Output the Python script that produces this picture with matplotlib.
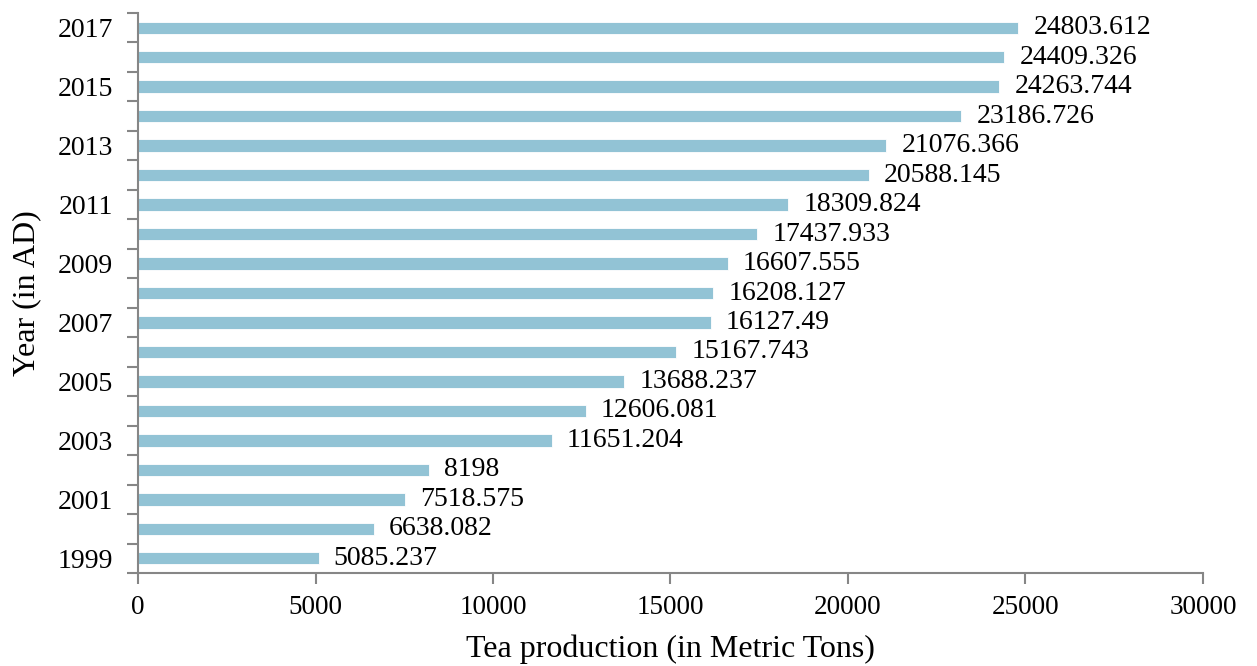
import numpy as np
import matplotlib
matplotlib.use("Agg")
import matplotlib.pyplot as plt
from matplotlib.ticker import FixedLocator

# ---- data ----
years = list(range(1999, 2018))
production = [5085.237, 6638.082, 7518.575, 8198, 11651.204, 12606.081,
              13688.237, 15167.743, 16127.49, 16208.127, 16607.555, 17437.933,
              18309.824, 20588.145, 21076.366, 23186.726, 24263.744, 24409.326,
              24803.612]
value_labels = ["5085.237", "6638.082", "7518.575", "8198", "11651.204",
                "12606.081", "13688.237", "15167.743", "16127.49", "16208.127",
                "16607.555", "17437.933", "18309.824", "20588.145", "21076.366",
                "23186.726", "24263.744", "24409.326", "24803.612"]
x_ticks = [0, 5000, 10000, 15000, 20000, 25000, 30000]

BAR_COLOR = "#92C3D5"
AXIS_COLOR = "#868686"

plt.rcParams['font.family'] = ['Liberation Serif', 'DejaVu Serif']

fig = plt.figure(figsize=(12.57, 6.66), dpi=100)
ax = fig.add_axes([0.1098, 0.1396, 0.8472, 0.8409])

pos = np.arange(len(years))
ax.barh(pos, production, height=0.42, color=BAR_COLOR,
        edgecolor="white", linewidth=0.6)

# value labels to the right of each bar
for p, v, lab in zip(pos, production, value_labels):
    ax.annotate(lab, xy=(v, p), xytext=(11, 0), textcoords="offset points",
                va="center", ha="left", fontsize=20)

ax.set_xlim(0, 30000)
ax.set_ylim(-0.5, len(years) - 0.5)

# year labels on every other bar, tick marks between bars
ax.set_yticks(pos[::2])
ax.set_yticklabels([str(y) for y in years[::2]])
ax.yaxis.set_minor_locator(FixedLocator(np.arange(-0.5, len(years), 1.0)))
ax.tick_params(axis="y", which="major", length=0, pad=18, labelsize=20)
ax.tick_params(axis="y", which="minor", length=8, width=1.5,
               color=AXIS_COLOR, direction="out")

ax.set_xticks(x_ticks)
ax.set_xticklabels([str(t) for t in x_ticks])
ax.tick_params(axis="x", which="major", length=8, width=1.5,
               color=AXIS_COLOR, direction="out", pad=8, labelsize=19.5)

for side in ["top", "right"]:
    ax.spines[side].set_visible(False)
for side in ["left", "bottom"]:
    ax.spines[side].set_color(AXIS_COLOR)
    ax.spines[side].set_linewidth(1.5)

ax.set_xlabel("Tea production (in Metric Tons)", fontsize=23, labelpad=10)
ax.set_ylabel("Year (in AD)", fontsize=23, labelpad=12)

fig.savefig("out.png", dpi=100)
